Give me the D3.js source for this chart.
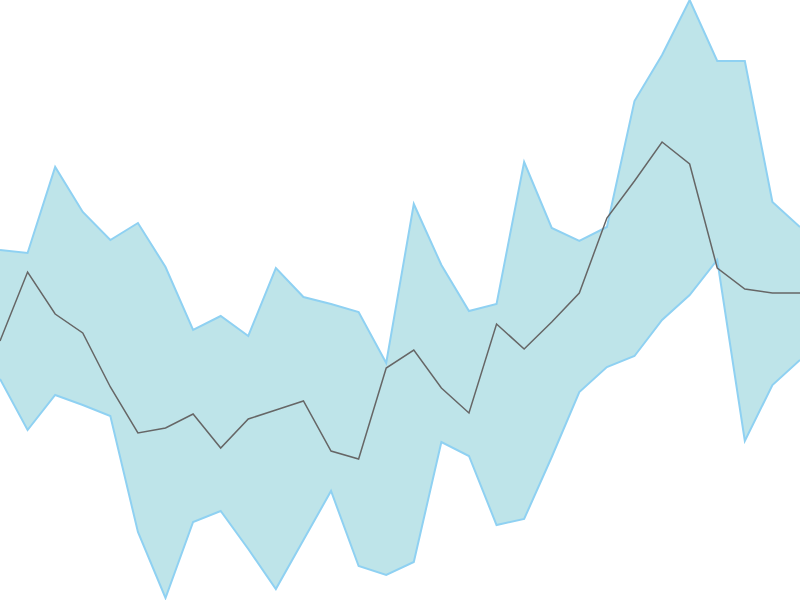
<!DOCTYPE html>
<html>
<head>
<meta charset="utf-8">
<script src="https://cdn.jsdelivr.net/npm/d3@7"></script>
<style>
  html, body { margin: 0; padding: 0; background: #fff; }
  svg { display: block; }
</style>
</head>
<body>
<svg id="chart" width="800" height="600"></svg>
<script>
// one value per step, 30 steps across the chart
const upperValues = [350, 347, 433, 388, 360, 377, 333, 270, 284, 264, 332, 303, 296, 288, 237,
  396, 335, 289, 296, 438, 372, 359, 373, 499, 545, 600, 539, 539, 398, 373];
const middleValues = [259, 328, 286, 267, 213, 167, 172, 186, 152, 181, 190, 199, 149, 141, 232,
  250, 212, 187, 276, 251, 278, 307, 382, 419, 458, 436, 332, 311, 307, 307];
const lowerValues = [221, 170, 205, 195, 184, 68, 2, 78, 89, 51, 11, 60, 109, 34, 25,
  38, 158, 144, 75, 81, 143, 208, 233, 244, 280, 305, 340, 159, 215, 240];

const width = 800;
const height = 600;

const data = upperValues.map((u, i) => ({
  i,
  upper: u,
  middle: middleValues[i],
  lower: lowerValues[i],
}));

const svg = d3.select('#chart');

const xScale = d3.scaleLinear()
  .domain([0, data.length - 1])
  .range([0, width]);

const yScale = d3.scaleLinear()
  .domain([0, 600])
  .range([height, 0]);

const band = d3.area()
  .x(d => xScale(d.i))
  .y0(d => yScale(d.lower))
  .y1(d => yScale(d.upper));

const lineOf = key => d3.line()
  .x(d => xScale(d.i))
  .y(d => yScale(d[key]));

svg.append('path')
  .datum(data)
  .attr('d', band)
  .style('fill', '#bee4e9')
  .style('stroke', 'none');

['upper', 'lower'].forEach(key => {
  svg.append('path')
    .datum(data)
    .attr('d', lineOf(key))
    .style('fill', 'none')
    .style('stroke', '#8fd1f2')
    .style('stroke-width', 2);
});

svg.append('path')
  .datum(data)
  .attr('d', lineOf('middle'))
  .style('fill', 'none')
  .style('stroke', '#666')
  .style('stroke-width', 1.5);
</script>
</body>
</html>
